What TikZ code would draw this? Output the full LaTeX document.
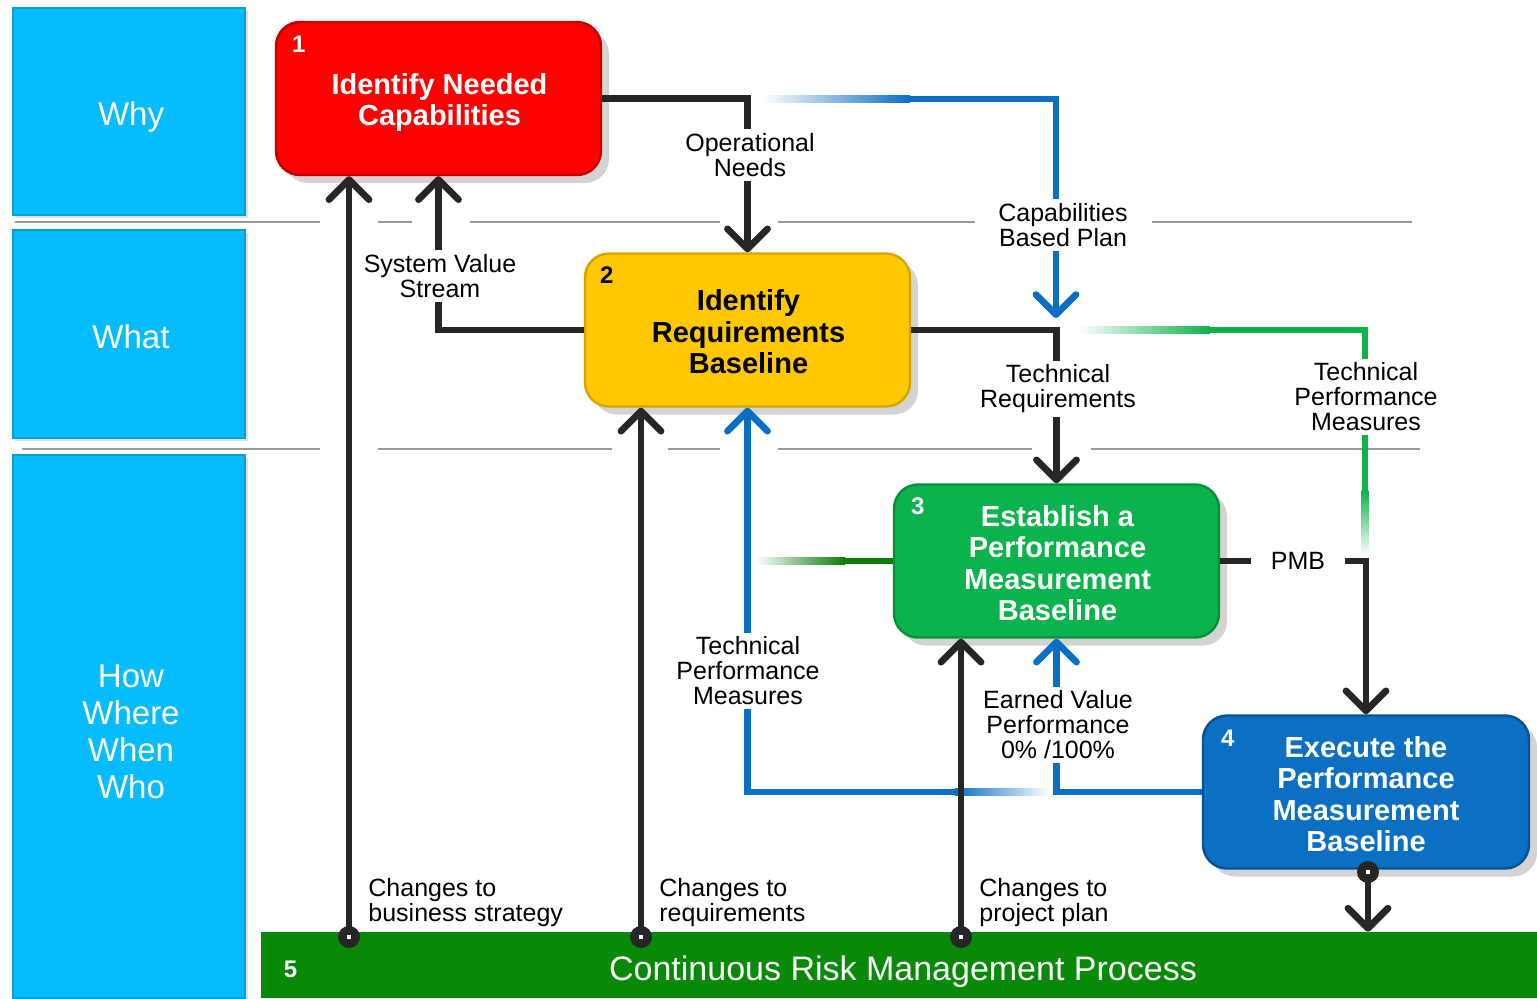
\documentclass[tikz,border=0pt]{standalone}
\usepackage{fontspec}
\setmainfont{Liberation Sans}
\usetikzlibrary{arrows.meta,shadows,calc}

\definecolor{lanefill}{HTML}{06BCFD}
\definecolor{laneedge}{HTML}{0A9ED6}
\definecolor{redfill}{HTML}{FF0000}
\definecolor{rededge}{HTML}{C40000}
\definecolor{yelfill}{HTML}{FFC800}
\definecolor{yeledge}{HTML}{D8A200}
\definecolor{grnfill}{HTML}{0BB34C}
\definecolor{grnedge}{HTML}{07903A}
\definecolor{blufill}{HTML}{0B70C2}
\definecolor{bluedge}{HTML}{075296}
\definecolor{barfill}{HTML}{088A08}
\definecolor{bluline}{HTML}{0A6FC4}
\definecolor{grnline}{HTML}{10B14A}
\definecolor{dgrnline}{HTML}{0A7D0A}
\definecolor{blkline}{HTML}{262626}
\definecolor{sepgray}{HTML}{9A9A9A}

\begin{document}
\begin{tikzpicture}[x=0.5pt,y=-0.5pt,
  lane/.style={fill=lanefill, draw=laneedge, line width=0.6pt, minimum width=116pt,
    inner sep=0pt,
    drop shadow={shadow xshift=1.5pt, shadow yshift=-1.5pt, opacity=0.25}},
  lanetext/.style={text=white, font=\fontsize{16.5}{18.5}\selectfont, align=center, inner sep=0pt},
  stepbox/.style={rounded corners=12pt, minimum width=162.5pt, minimum height=76.5pt,
    text=white, align=center, inner sep=0pt, line width=1.2pt,
    font=\bfseries\fontsize{14.5}{15.7}\selectfont,
    drop shadow={shadow xshift=4pt, shadow yshift=-4pt, opacity=0.35}},
  steptext/.style={text=white, align=center, inner sep=0pt,
    font=\bfseries\fontsize{14.5}{15.7}\selectfont},
  num/.style={font=\bfseries\fontsize{12}{12}\selectfont, text=white, inner sep=0pt},
  lbl/.style={font=\fontsize{12.5}{12.5}\selectfont, align=center, fill=white, inner sep=2pt},
  sep/.style={draw=sepgray, line width=1pt},
  blk/.style={draw=blkline, line width=3.4pt},
  blu/.style={draw=bluline, line width=3.4pt},
  grn/.style={draw=grnline, line width=3.4pt},
  dgrn/.style={draw=dgrnline, line width=3.4pt},
  arrowend/.style={-{Straight Barb[length=10pt,width=20pt,round]}},
  dot/.style={circle, fill=blkline, minimum size=11pt, inner sep=0pt}
]
\useasboundingbox (0,0) rectangle (1537,998);

% row separators
\foreach \a/\b in {15/320, 378/412, 470/720, 778/975, 1152/1412}
  \draw[sep] (\a,222) -- (\b,222);
\foreach \a/\b in {22/320, 378/612, 668/720, 778/1032, 1091/1420}
  \draw[sep] (\a,449) -- (\b,449);

% left lane headers
\node[lane, minimum height=103.5pt] (why) at (129,111.5) {};
\node[lane, minimum height=104pt] (what) at (129,334) {};
\node[lane, minimum height=271.5pt] (how) at (129,726.5) {};
\node[lanetext] at ($(why.center)+(2,5)$) {Why};
\node[lanetext] at ($(what.center)+(2,3)$) {What};
\node[lanetext] at ($(how.center)+(2,5)$) {How\\Where\\When\\Who};

% process boxes
\node[stepbox, fill=redfill, draw=rededge] (b1) at (438.5,98.5) {};
\node[steptext] at ($(b1.center)+(1,4)$) {Identify Needed\\Capabilities};
\node[stepbox, fill=yelfill, draw=yeledge, text=black] (b2) at (747.5,330) {};
\node[steptext, text=black] at ($(b2.center)+(1,2)$) {Identify\\Requirements\\Baseline};
\node[stepbox, fill=grnfill, draw=grnedge] (b3) at (1056.5,561) {};
\node[steptext] at ($(b3.center)+(1,2)$) {Establish a\\Performance\\Measurement\\Baseline};
\node[stepbox, fill=blufill, draw=bluedge, minimum width=163pt] (b4) at (1366,792) {};
\node[steptext] at ($(b4.center)+(0,2)$) {Execute the\\Performance\\Measurement\\Baseline};
\node[fill=barfill, minimum width=638pt, minimum height=33pt, inner sep=0pt] (crm) at (899,965) {};
\node[text=white, font=\fontsize{17}{17}\selectfont, inner sep=0pt] at ($(crm.center)+(4,7)$) {Continuous Risk Management Process};

\node[num] at ($(b1.north west)+(24,23)$) {1};
\node[num, text=black] at ($(b2.north west)+(23,23)$) {2};
\node[num] at ($(b3.north west)+(25,23)$) {3};
\node[num] at ($(b4.north west)+(26,24)$) {4};
\node[num] at ($(crm.west)+(30,4)$) {5};

% junction and free-end coordinates
\coordinate (cbfade0) at (763,99);
\coordinate (cbfade1) at (910,99);
\coordinate (cbend) at (1056,318);
\coordinate (tpfade0) at (1078,330);
\coordinate (tpfade1) at (1210,330);
\coordinate (tpdown) at (1365,490);
\coordinate (tpstop) at (1365,556);
\coordinate (evfade0) at (1050,792);
\coordinate (evfade1) at (955,792);
\coordinate (pmfade0) at (755,561);
\coordinate (pmfade1) at (845,561);

% black flows
\draw[blk, arrowend] (b1.east) -| (b2.north);
\draw[blk, arrowend] (b2.east) -| (b3.north);
\draw[blk, arrowend] (b2.west) -| (b1.south);
\draw[blk, arrowend] (b3.east) -| (b4.north);

% capabilities based plan (blue)
\shade[left color=white, right color=bluline] ($(cbfade0)+(0,-3.4)$) rectangle ($(cbfade1)+(0,3.4)$);
\draw[blu, arrowend] (cbfade1) -| (cbend);

% technical performance measures to execution (green)
\shade[left color=white, right color=grnline] ($(tpfade0)+(0,-3.4)$) rectangle ($(tpfade1)+(0,3.4)$);
\draw[grn] (tpfade1) -| (tpdown);
\shade[top color=grnline, bottom color=white] ($(tpdown)+(-3.4,0)$) rectangle ($(tpstop)+(3.4,0)$);

% earned value feedback (blue)
\draw[blu, arrowend] (b4.west) -| (b3.south);
\shade[left color=bluline, right color=white] ($(evfade1)+(0,-3.4)$) rectangle ($(evfade0)+(0,3.4)$);
\draw[blu, arrowend] (evfade1) -| (b2.south);

% baseline link to box 3 (dark green)
\shade[left color=white, right color=dgrnline] ($(pmfade0)+(0,-3.4)$) rectangle ($(pmfade1)+(0,3.4)$);
\draw[dgrn] (pmfade1) -- (b3.west);

% risk management change paths
\node[dot] (d1) at (349,937) {};
\node[dot] (d2) at (641,937) {};
\node[dot] (d3) at (961,937) {};
\node[dot] (d4) at (1368,872) {};
\draw[blk, arrowend] (d1.center) -- (d1.center |- b1.south);
\draw[blk, arrowend] (d2.center) -- (d2.center |- b2.south);
\draw[blk, arrowend] (d3.center) -- (d3.center |- b3.south);
\draw[blk, arrowend] (d4.center) -- (d4.center |- crm.north);
\foreach \d in {d1,d2,d3,d4}
  \fill[white] ($(\d.center)+(-2,-2)$) rectangle ($(\d.center)+(2,2)$);

% flow labels
\node[lbl] at (750,155) {Operational\\Needs};
\node[lbl] at (1063,225) {Capabilities\\Based Plan};
\node[lbl] at (440,276) {System Value\\Stream};
\node[lbl] at (1058,389) {Technical\\Requirements};
\node[lbl] at (1366,397) {Technical\\Performance\\Measures};
\node[lbl, inner xsep=10pt] at (1298,561) {PMB};
\node[lbl] at (748,671) {Technical\\Performance\\Measures};
\node[lbl] at (1058,725) {Earned Value\\Performance\\0\% /100\%};
\node[lbl, fill=none, align=left, anchor=west] at (364,903) {Changes to\\business strategy};
\node[lbl, fill=none, align=left, anchor=west] at (655,903) {Changes to\\requirements};
\node[lbl, fill=none, align=left, anchor=west] at (975,903) {Changes to\\project plan};
\end{tikzpicture}
\end{document}
